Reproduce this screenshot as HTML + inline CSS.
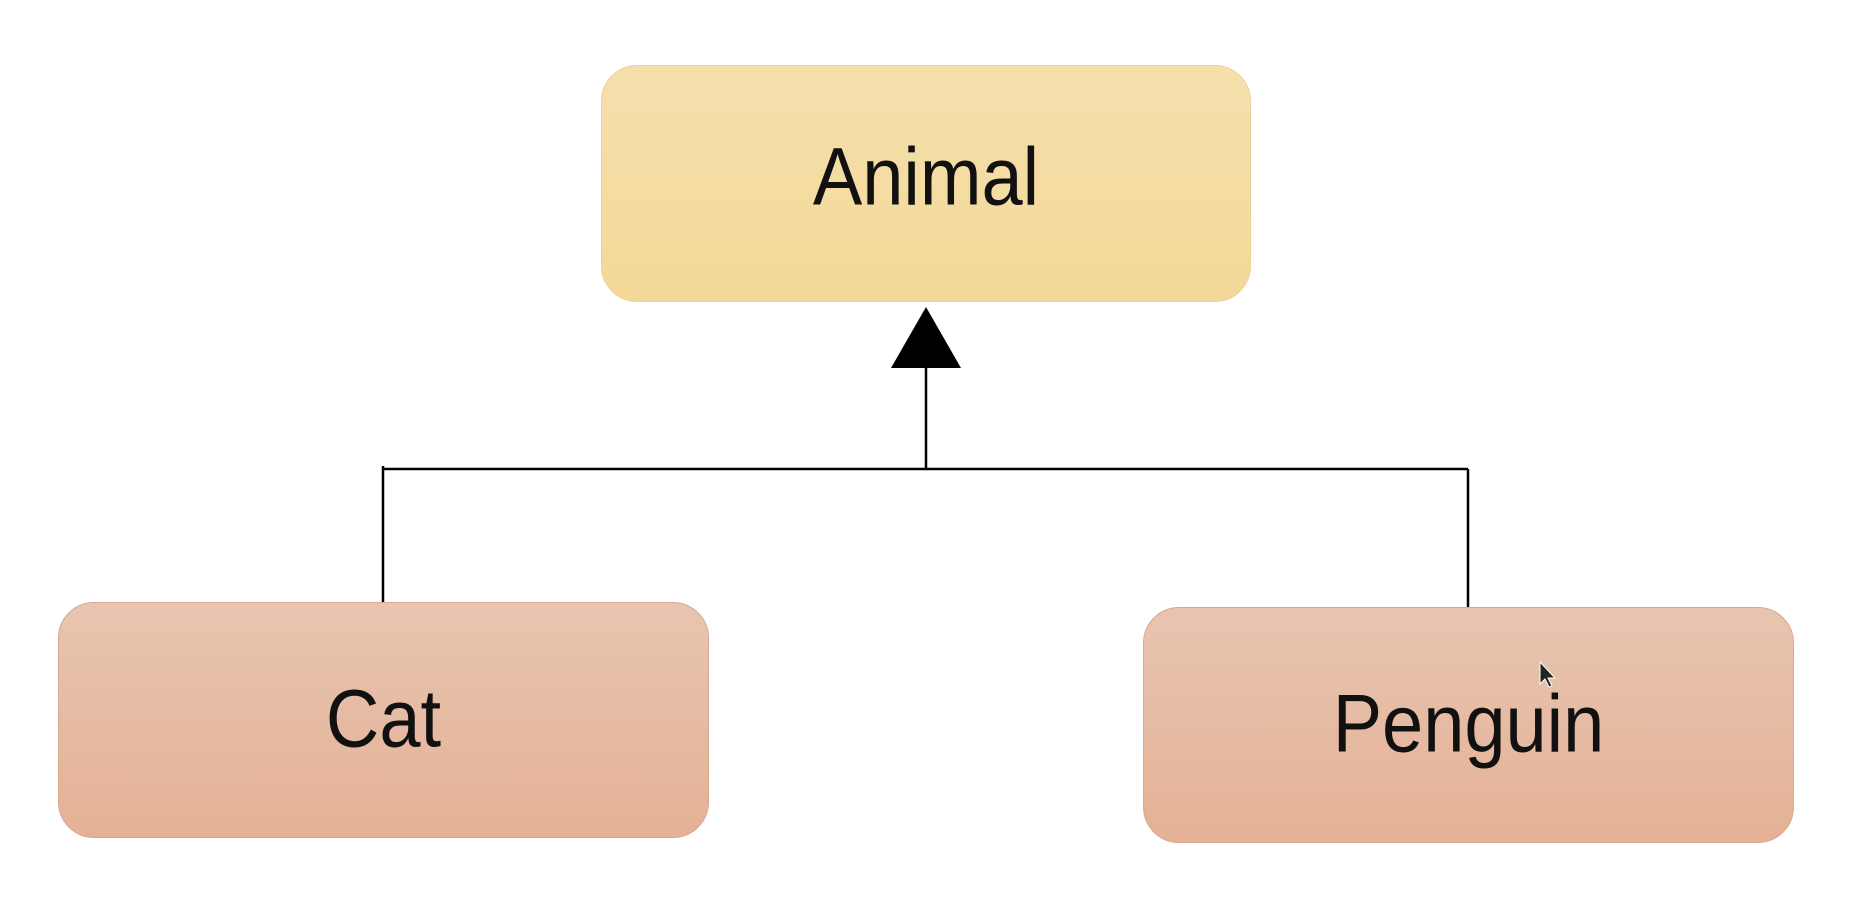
<!DOCTYPE html>
<html><head><meta charset="utf-8"><style>
html,body{margin:0;padding:0;background:#fff;width:1856px;height:902px;overflow:hidden}
.b{position:absolute;box-sizing:border-box;border-radius:36px;display:flex;align-items:center;justify-content:center;font-family:"Liberation Sans",sans-serif;color:#111;font-size:74px}
.b span{display:inline-block;transform:scaleY(1.1)}
.y{background:linear-gradient(#f5e0ad,#f3d898);border:1px solid #ecd49a}
.r{background:linear-gradient(#e8c5b1,#e4b195);border:1px solid #d9a98e}
</style></head><body>
<div class="b y" style="left:601px;top:65px;width:650px;height:237px;padding-bottom:14px"><span>Animal</span></div>
<div class="b r" style="left:58px;top:602px;width:651px;height:236px;padding-bottom:4px"><span>Cat</span></div>
<div class="b r" style="left:1143px;top:607px;width:651px;height:236px;padding-bottom:4px"><span>Penguin</span></div>
<svg width="1856" height="902" style="position:absolute;left:0;top:0">
<polygon points="926,307 891,368 961,368" fill="#000"/>
<line x1="926" y1="368" x2="926" y2="469" stroke="#000" stroke-width="2.5"/>
<line x1="383" y1="469" x2="1468" y2="469" stroke="#000" stroke-width="2.5"/>
<line x1="383" y1="466" x2="383" y2="602" stroke="#000" stroke-width="2.5"/>
<line x1="1468" y1="469" x2="1468" y2="607" stroke="#000" stroke-width="2.5"/>
<polygon points="1540,662 1540,684 1545,679 1549,687 1552,686 1548,678 1555,678" fill="#222" stroke="#fff" stroke-width="1"/>
</svg>
</body></html>
